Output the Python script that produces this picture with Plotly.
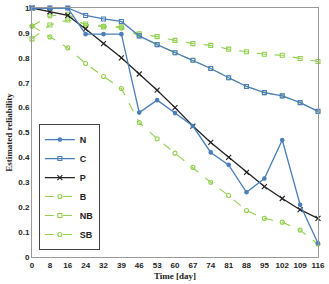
import plotly.graph_objects as go

days = ["0", "8", "16", "24", "32", "39", "46", "53", "60", "67", "74", "81", "88", "95", "102", "109", "116"]
N = [1.0, 1.0, 1.0, 0.895, 0.895, 0.895, 0.58, 0.63, 0.578, 0.526, 0.42, 0.37, 0.26, 0.315, 0.47, 0.21, 0.055]
C = [1.0, 1.0, 1.0, 0.97, 0.956, 0.946, 0.888, 0.853, 0.82, 0.79, 0.757, 0.72, 0.685, 0.66, 0.647, 0.62, 0.585]
P = [1.0, 0.985, 0.97, 0.916, 0.857, 0.80, 0.735, 0.67, 0.60, 0.526, 0.46, 0.40, 0.34, 0.283, 0.235, 0.19, 0.155]
B = [0.928, 0.968, 0.976, 0.93, 0.928, 0.92, 0.888, 0.853, 0.82, 0.79, 0.757, 0.72, 0.685, 0.66, 0.647, 0.62, 0.585]
NB = [0.876, 0.932, 0.952, 0.936, 0.924, 0.924, 0.896, 0.885, 0.87, 0.857, 0.85, 0.835, 0.824, 0.814, 0.81, 0.797, 0.785]
SB = [0.928, 0.884, 0.84, 0.777, 0.725, 0.677, 0.54, 0.475, 0.417, 0.36, 0.30, 0.247, 0.187, 0.155, 0.14, 0.108, 0.052]

idx = list(range(len(days)))
blue = "#4a7ebb"
green = "#92d050"

fig = go.Figure()

def add(name, y, color, dash, symbol, size, fill, width):
    fig.add_trace(go.Scatter(
        x=idx, y=y, name=name, mode="lines+markers",
        line=dict(color=color, width=width, dash=dash),
        marker=dict(symbol=symbol, size=size, color=fill,
                    line=dict(color=color, width=1.1)),
        cliponaxis=False,
    ))

add("SB", SB, green, "dash", "circle-open", 4, green, 1.1)
add("NB", NB, green, "dash", "square-open", 4, green, 1.1)
add("B", B, green, "dash", "circle-open", 4, green, 1.1)
add("P", P, "#222222", "solid", "x-thin-open", 5, "#222222", 1.3)
add("C", C, blue, "solid", "square-open", 4, blue, 1.3)
add("N", N, blue, "solid", "circle", 3.5, blue, 1.3)

fig.update_layout(
    width=329, height=284,
    margin=dict(l=32, r=4, t=6, b=27),
    paper_bgcolor="white", plot_bgcolor="white",
    showlegend=True,
    legend=dict(
        x=0.024, y=0.028, xanchor="left", yanchor="bottom",
        traceorder="reversed",
        bordercolor="#444444", borderwidth=1, bgcolor="white",
        font=dict(family="Liberation Sans", size=9, color="#222222", weight="bold"),
        itemwidth=30, tracegroupgap=0,
    ),
    xaxis=dict(
        range=[0, 16], tickmode="array", tickvals=idx, ticktext=days,
        showgrid=False, zeroline=False, showline=True, linecolor="#999999",
        linewidth=1, mirror=True, ticks="", ticklabeloverflow="allow",
        tickfont=dict(family="Liberation Sans", size=8, color="#222222", weight="bold"),
        title=dict(text="Time [day]", standoff=4,
                   font=dict(family="Liberation Serif", size=9, color="#222222", weight="bold")),
    ),
    yaxis=dict(
        range=[0, 1], tickmode="array", tickvals=[i / 10 for i in range(11)],
        ticktext=["0", "0.1", "0.2", "0.3", "0.4", "0.5", "0.6", "0.7", "0.8", "0.9", "1"],
        showgrid=False, zeroline=False, showline=True, linecolor="#999999",
        linewidth=1, mirror=True, ticks="",
        tickfont=dict(family="Liberation Sans", size=8, color="#222222", weight="bold"),
        title=dict(text="Estimated reliability", standoff=4,
                   font=dict(family="Liberation Serif", size=9, color="#222222", weight="bold")),
    ),
)

fig.write_html("out.html")
